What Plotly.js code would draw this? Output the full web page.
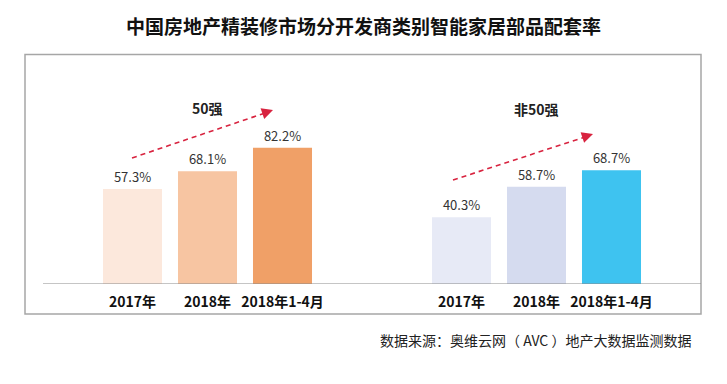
<!DOCTYPE html>
<html>
<head>
<meta charset="utf-8">
<script src="https://cdn.plot.ly/plotly-3.0.1.min.js"></script>
<style>
html,body{margin:0;padding:0;background:#fff;}
#chart{width:727px;height:384px;}
</style>
</head>
<body>
<div id="chart"></div>
<script>
// ---- data ----
var categories = ['2017年', '2018年', '2018年1-4月'];
var top50Values = [57.3, 68.1, 82.2];
var nonTop50Values = [40.3, 58.7, 68.7];
var groupNames = ['50强', '非50强'];
var titleText = '中国房地产精装修市场分开发商类别智能家居部品配套率';
var sourceText = '数据来源：奥维云网（ AVC ）地产大数据监测数据';

var top50Colors = ['#fce8dc', '#f7c5a2', '#f0a067'];
var nonTop50Colors = ['#e7eaf6', '#d5dbef', '#3ec3f0'];

var W = 727, H = 384;
function px(x) { return x / W; }
function py(y) { return 1 - y / H; }

var FONT = '"Noto Sans CJK SC", "Noto Sans", sans-serif';

var traces = [
  {
    type: 'bar', x: categories, y: top50Values, xaxis: 'x', yaxis: 'y',
    marker: {color: top50Colors, line: {width: 0}},
    texttemplate: '%{y:.1f}%', textposition: 'outside', cliponaxis: false,
    textfont: {family: FONT, size: 13, color: '#333'},
    hoverinfo: 'skip', showlegend: false
  },
  {
    type: 'bar', x: categories, y: nonTop50Values, xaxis: 'x2', yaxis: 'y',
    marker: {color: nonTop50Colors, line: {width: 0}},
    texttemplate: '%{y:.1f}%', textposition: 'outside', cliponaxis: false,
    textfont: {family: FONT, size: 13, color: '#333'},
    hoverinfo: 'skip', showlegend: false
  }
];

var xCommon = {
  type: 'category', range: [-0.5, 2.5], showgrid: false, zeroline: false,
  showline: false, ticks: '', anchor: 'y', fixedrange: true, ticklabelstandoff: 8,
  tickfont: {family: FONT, size: 14, color: '#111', weight: 'bold'}
};

var annotations = [];
// group labels
annotations.push({
  xref: 'x', yref: 'paper', x: categories[1], y: py(96), text: '<b>' + groupNames[0] + '</b>',
  showarrow: false, font: {family: FONT, size: 14, color: '#222'}
});
annotations.push({
  xref: 'x2', yref: 'paper', x: categories[1], y: py(97), text: '<b>' + groupNames[1] + '</b>',
  showarrow: false, font: {family: FONT, size: 14, color: '#222'}
});
// arrow heads
function arrowHead(x0, y0, x1, y1) {
  var dx = x1 - x0, dy = y1 - y0, L = Math.sqrt(dx * dx + dy * dy);
  annotations.push({
    xref: 'paper', yref: 'paper', x: px(x1), y: py(y1), text: '',
    showarrow: true, arrowhead: 2, arrowsize: 1.4, arrowwidth: 1.6, arrowcolor: '#d8233f',
    ax: -dx / L * 6, ay: -dy / L * 6, standoff: 0
  });
}
arrowHead(132, 158, 273, 110);
arrowHead(453, 180, 593, 134);
// source
annotations.push({
  xref: 'paper', yref: 'paper', x: px(693), y: py(352), xanchor: 'right', text: sourceText,
  showarrow: false, font: {family: FONT, size: 14, color: '#222'}
});

var shapes = [
  {type: 'rect', xref: 'paper', yref: 'paper', x0: px(25), x1: px(701), y0: py(314), y1: py(54.5),
   line: {color: '#a6a6a6', width: 1.5}, fillcolor: 'rgba(0,0,0,0)', layer: 'below'},
  {type: 'line', xref: 'paper', yref: 'y', x0: px(43), x1: px(701), y0: 0, y1: 0,
   line: {color: '#8c8c8c', width: 1.2}},
  {type: 'line', xref: 'paper', yref: 'paper', x0: px(132), y0: py(158), x1: px(268), y1: py(112),
   line: {color: '#d8233f', width: 1.6, dash: '5px,4px'}},
  {type: 'line', xref: 'paper', yref: 'paper', x0: px(453), y0: py(180), x1: px(588), y1: py(136),
   line: {color: '#d8233f', width: 1.6, dash: '5px,4px'}}
];

var layout = {
  width: W, height: H,
  margin: {l: 0, r: 0, t: 0, b: 0, pad: 0},
  paper_bgcolor: '#ffffff', plot_bgcolor: 'rgba(0,0,0,0)',
  bargap: 0.213,
  title: {
    text: '<b>' + titleText + '</b>', x: 0.5, xanchor: 'center', xref: 'paper',
    y: py(27), yref: 'container', yanchor: 'middle',
    font: {family: FONT, size: 19, color: '#111'}
  },
  xaxis: Object.assign({}, xCommon, {domain: [px(95), px(320)]}),
  xaxis2: Object.assign({}, xCommon, {domain: [px(424), px(649)]}),
  yaxis: {
    domain: [py(284), py(284 - 165.7)], range: [0, 100], showgrid: false, zeroline: false,
    showline: false, showticklabels: false, ticks: '', fixedrange: true
  },
  shapes: shapes,
  annotations: annotations,
  font: {family: FONT}
};

Plotly.newPlot('chart', traces, layout, {displayModeBar: false, staticPlot: true});
</script>
</body>
</html>
